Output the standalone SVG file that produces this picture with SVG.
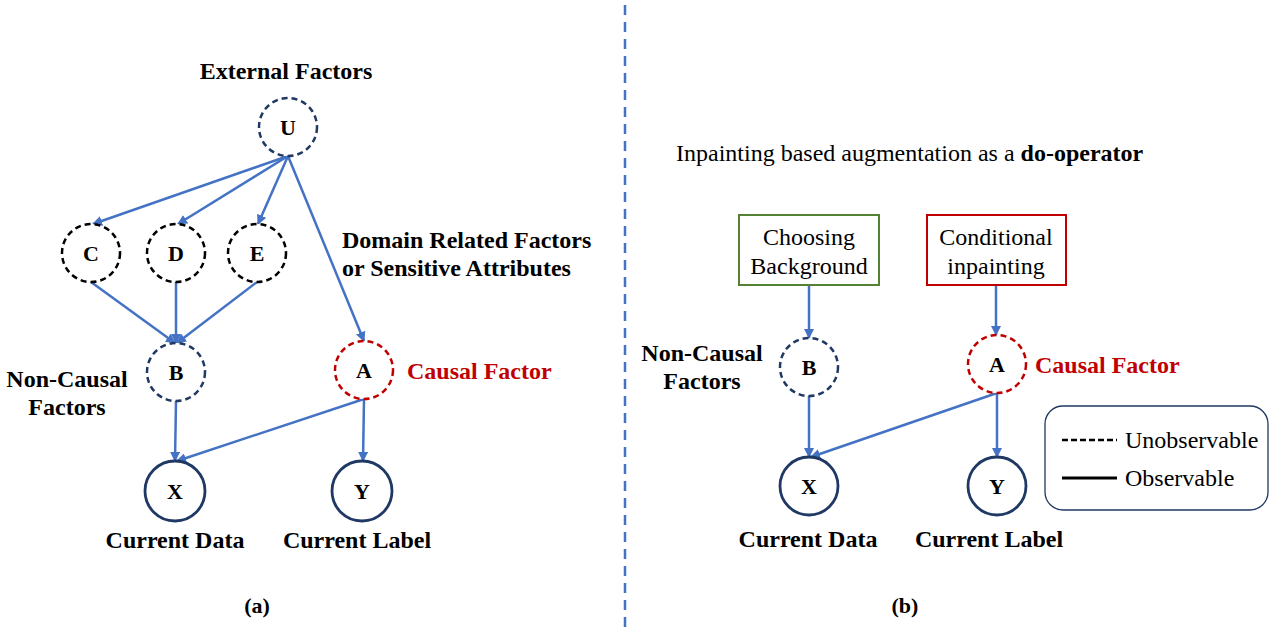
<svg xmlns="http://www.w3.org/2000/svg" width="1280" height="642" viewBox="0 0 1280 642">
<defs>
<marker id="ah" viewBox="0 0 10 10" refX="9" refY="5" markerWidth="4" markerHeight="4" orient="auto" markerUnits="strokeWidth">
<path d="M0,0 L10,5 L0,10 Z" fill="#4472C4"/>
</marker>
<style>
.t{font-family:"Liberation Serif","Times New Roman",serif;fill:#000;}
.b{font-weight:bold;font-size:22px;}
.n{font-size:24px;}
.lt{font-weight:bold;font-size:24px;}
.red{fill:#C00000;}
.dn{fill:#fff;stroke:#1F3864;stroke-width:2.5;stroke-dasharray:6 4;}
.dk{fill:#fff;stroke:#000;stroke-width:2.5;stroke-dasharray:6 4;}
.dr{fill:#fff;stroke:#C00000;stroke-width:2.5;stroke-dasharray:6 4;}
.so{fill:#fff;stroke:#1F3864;stroke-width:2.8;}
.e{stroke:#4472C4;stroke-width:2.5;fill:none;marker-end:url(#ah);}
</style>
</defs>
<rect width="1280" height="642" fill="#fff"/>
<line x1="625" y1="5" x2="625" y2="632" stroke="#4472C4" stroke-width="2.5" stroke-dasharray="10 7"/>

<g id="connectors">
<line class="e" x1="288" y1="156" x2="93" y2="224"/>
<line class="e" x1="288" y1="156" x2="178" y2="224"/>
<line class="e" x1="288" y1="156" x2="258" y2="224"/>
<line class="e" x1="288" y1="156" x2="364" y2="341"/>
<line class="e" x1="91" y1="282" x2="175" y2="343"/>
<line class="e" x1="176" y1="282" x2="176" y2="343"/>
<line class="e" x1="257" y1="282" x2="177" y2="343"/>
<line class="e" x1="176" y1="401" x2="175" y2="461"/>
<line class="e" x1="364" y1="399" x2="177" y2="461"/>
<line class="e" x1="364" y1="399" x2="363" y2="461"/>
<line class="e" x1="809" y1="285" x2="809" y2="338"/>
<line class="e" x1="996" y1="285" x2="996" y2="335"/>
<line class="e" x1="809" y1="396" x2="809" y2="457"/>
<line class="e" x1="997" y1="393" x2="811" y2="457"/>
<line class="e" x1="997" y1="393" x2="997" y2="457"/>
</g>

<g id="a-U"><circle class="dn" cx="288" cy="127" r="29"/><text class="t b" x="288" y="135" text-anchor="middle">U</text></g>
<text class="t lt" x="286" y="79" text-anchor="middle">External Factors</text>
<g id="a-C"><circle class="dk" cx="91" cy="253" r="29"/><text class="t b" x="91" y="261" text-anchor="middle">C</text></g>
<g id="a-D"><circle class="dk" cx="176" cy="253" r="29"/><text class="t b" x="176" y="261" text-anchor="middle">D</text></g>
<g id="a-E"><circle class="dk" cx="257" cy="253" r="29"/><text class="t b" x="257" y="261" text-anchor="middle">E</text></g>
<text class="t lt" x="342" y="248">Domain Related Factors</text>
<text class="t lt" x="342" y="276">or Sensitive Attributes</text>
<g id="a-B"><circle class="dn" cx="176" cy="372" r="29"/><text class="t b" x="176" y="380" text-anchor="middle">B</text></g>
<text class="t lt" x="67" y="387" text-anchor="middle">Non-Causal</text>
<text class="t lt" x="67" y="415" text-anchor="middle">Factors</text>
<g id="a-A"><circle class="dr" cx="364" cy="370" r="29"/><text class="t b" x="364" y="378" text-anchor="middle">A</text></g>
<text class="t lt red" x="407" y="379">Causal Factor</text>
<g id="a-X"><circle class="so" cx="175" cy="491" r="30"/><text class="t b" x="175" y="499" text-anchor="middle">X</text></g>
<g id="a-Y"><circle class="so" cx="362" cy="491" r="30"/><text class="t b" x="362" y="499" text-anchor="middle">Y</text></g>
<text class="t lt" x="175" y="548" text-anchor="middle">Current Data</text>
<text class="t lt" x="357" y="548" text-anchor="middle">Current Label</text>
<text class="t b" x="257" y="613" text-anchor="middle">(a)</text>

<text class="t n" x="676" y="161">Inpainting based augmentation as a <tspan font-weight="bold">do-operator</tspan></text>
<g id="b-choose"><rect x="739" y="215" width="140" height="70" fill="#fff" stroke="#548235" stroke-width="2"/>
<text class="t n" x="809" y="245" text-anchor="middle">Choosing</text><text class="t n" x="809" y="274" text-anchor="middle">Background</text></g>
<g id="b-cond"><rect x="927" y="215" width="139" height="70" fill="#fff" stroke="#C00000" stroke-width="2"/>
<text class="t n" x="996" y="245" text-anchor="middle">Conditional</text><text class="t n" x="996" y="274" text-anchor="middle">inpainting</text></g>
<g id="b-B"><circle class="dn" cx="809" cy="367" r="29"/><text class="t b" x="809" y="375" text-anchor="middle">B</text></g>
<text class="t lt" x="702" y="361" text-anchor="middle">Non-Causal</text>
<text class="t lt" x="702" y="389" text-anchor="middle">Factors</text>
<g id="b-A"><circle class="dr" cx="997" cy="364" r="29"/><text class="t b" x="997" y="372" text-anchor="middle">A</text></g>
<text class="t lt red" x="1035" y="373">Causal Factor</text>
<g id="b-X"><circle class="so" cx="809" cy="486" r="29"/><text class="t b" x="809" y="494" text-anchor="middle">X</text></g>
<g id="b-Y"><circle class="so" cx="997" cy="486" r="29"/><text class="t b" x="997" y="494" text-anchor="middle">Y</text></g>
<text class="t lt" x="808" y="547" text-anchor="middle">Current Data</text>
<text class="t lt" x="989" y="547" text-anchor="middle">Current Label</text>
<text class="t b" x="905" y="613" text-anchor="middle">(b)</text>

<g id="legend">
<rect x="1045" y="406" width="223" height="104" rx="18" fill="#fff" stroke="#1F3864" stroke-width="1.3"/>
<line x1="1062" y1="440" x2="1117" y2="440" stroke="#000" stroke-width="2.5" stroke-dasharray="6 3"/>
<text class="t n" x="1125" y="448">Unobservable</text>
<line x1="1062" y1="478" x2="1117" y2="478" stroke="#000" stroke-width="2.8"/>
<text class="t n" x="1125" y="486">Observable</text>
</g>
</svg>
